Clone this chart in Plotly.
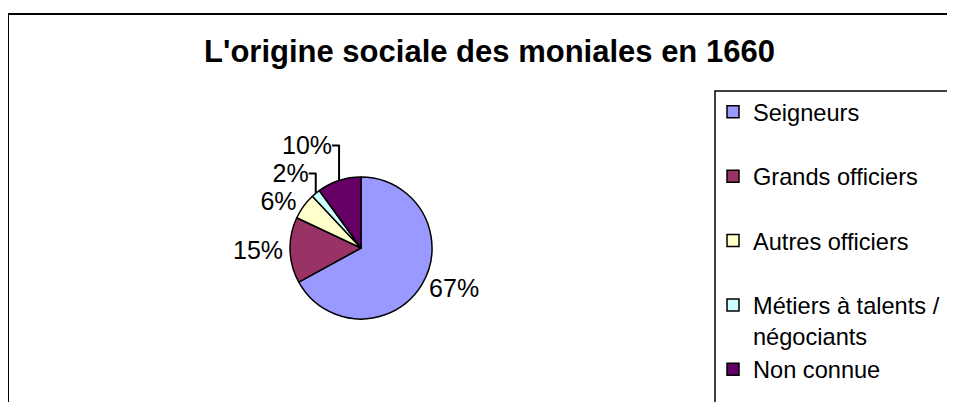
import plotly.graph_objects as go

# Data
categories = ["Seigneurs", "Grands officiers", "Autres officiers",
              "Métiers à talents /<br>négociants", "Non connue"]
values = [67, 15, 6, 2, 10]
colors = ["#9999FF", "#993366", "#FFFFCC", "#CCFFFF", "#660066"]
title_text = "L'origine sociale des moniales en 1660"

# figure size (page has an 8px body margin)
W, H = 947, 394
FONT = "Liberation Sans, Arial, sans-serif"

# legend labels: add an empty line after single-line labels for spacing
legend_labels = [c if ("<br>" in c or i == len(categories) - 1) else c + "<br> "
                 for i, c in enumerate(categories)]

cx, cy, r = 353, 240, 71  # pie centre / radius in pixels (layout)
lx, ly = 707, 83          # legend box top-left in pixels (layout)

fig = go.Figure(go.Pie(
    labels=legend_labels,
    values=values,
    sort=False,
    direction="clockwise",
    rotation=0,
    marker=dict(colors=colors, line=dict(color="black", width=1.5)),
    textinfo="percent",
    textposition="outside",
    texttemplate="%{percent:.0%}",
    outsidetextfont=dict(family=FONT, size=25, color="black"),
    domain=dict(x=[(cx - r) / W, (cx + r) / W],
                y=[(H - cy - r) / H, (H - cy + r) / H]),
    automargin=False,
    hoverinfo="label+percent",
))

fig.update_layout(
    width=W, height=H,
    margin=dict(l=0, r=0, t=0, b=0),
    paper_bgcolor="white",
    plot_bgcolor="white",
    title=dict(text="<b>" + title_text + "</b>",
               x=481.5 / W, xanchor="center",
               y=1 - 43.5 / H, yanchor="middle",
               font=dict(family=FONT, size=31, color="black")),
    legend=dict(x=(lx - 2) / W, y=1 - (ly - 1) / H, xanchor="left", yanchor="top",
                borderwidth=0, bgcolor="rgba(0,0,0,0)",
                font=dict(family=FONT, size=23.6, color="black"),
                valign="top", traceorder="normal", maxheight=1),
    showlegend=True,
    shapes=[
        # outer chart frame
        dict(type="rect", xref="paper", yref="paper",
             x0=0 / W, x1=1.05, y0=-0.05, y1=1 - 6 / H,
             line=dict(color="black", width=2), layer="below"),
        # legend frame
        dict(type="rect", xref="paper", yref="paper",
             x0=lx / W, x1=1.05, y0=-0.05, y1=1 - ly / H,
             line=dict(color="black", width=1.5), layer="below"),
    ],
)

fig.write_html("out.html")
